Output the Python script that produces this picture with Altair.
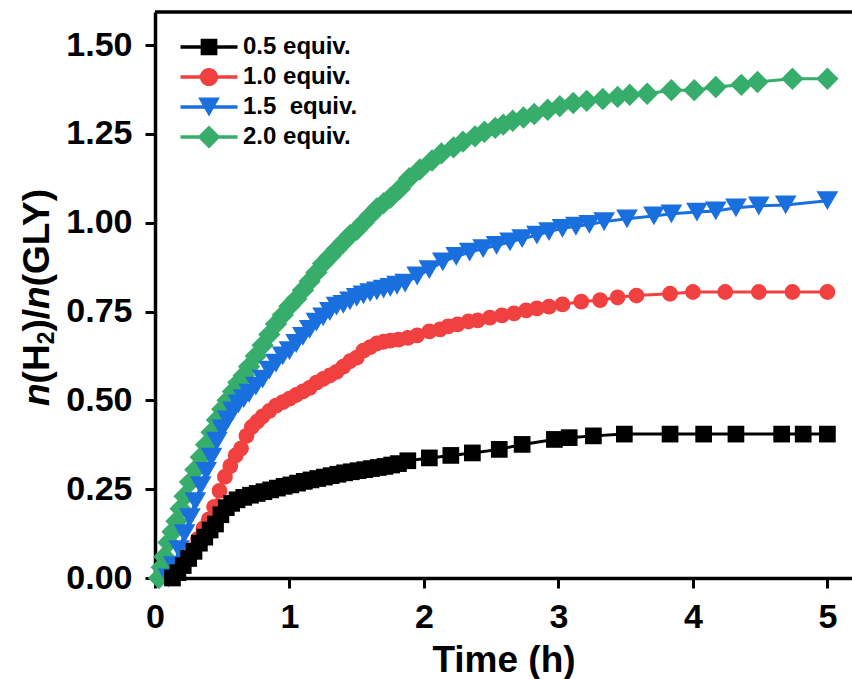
import altair as alt
import pandas as pd

# ---------------- data ----------------
series_names = ["0.5 equiv.", "1.0 equiv.", "1.5\u00a0 equiv.", "2.0 equiv."]
series_colors = ["#000000", "#F14040", "#1A6FDF", "#37AD6B"]
point_shapes = ["square", "circle", "triangle-down", "diamond"]
point_sizes = [279, 250, 471, 500]

t_05 = [0.13, 0.17, 0.21, 0.25, 0.29, 0.33, 0.37, 0.41, 0.45, 0.49, 0.53, 0.57, 0.61,
        0.66, 0.71, 0.76, 0.81, 0.86, 0.91, 0.96, 1.01, 1.06, 1.11, 1.16, 1.21, 1.26,
        1.31, 1.36, 1.41, 1.46, 1.51, 1.56, 1.61, 1.66, 1.71, 1.76, 1.81,
        1.88, 2.04, 2.20, 2.36, 2.56, 2.73, 2.97, 3.08, 3.26, 3.49, 3.83, 4.08, 4.32,
        4.66, 4.82, 5.00]
v_05 = [0.0, 0.015, 0.035, 0.055, 0.075, 0.098, 0.115, 0.135, 0.152, 0.178, 0.198, 0.21, 0.22,
        0.227, 0.233, 0.238, 0.243, 0.248, 0.253, 0.258, 0.262, 0.267, 0.272, 0.276, 0.28,
        0.284, 0.288, 0.292, 0.296, 0.299, 0.302, 0.305, 0.308, 0.311, 0.314, 0.318, 0.322,
        0.33, 0.338, 0.345, 0.352, 0.362, 0.376, 0.39, 0.395, 0.40, 0.405, 0.405, 0.405,
        0.405, 0.405, 0.405, 0.405]

t_10 = [0.12, 0.16, 0.20, 0.24, 0.28, 0.32, 0.36, 0.40, 0.44, 0.48, 0.52, 0.56, 0.60, 0.64,
        0.68, 0.72, 0.76, 0.80, 0.85, 0.90, 0.95, 1.00, 1.05, 1.10, 1.15, 1.20, 1.25, 1.30,
        1.35, 1.40, 1.45, 1.50, 1.55, 1.60, 1.65, 1.70, 1.75, 1.81, 1.88, 1.95, 2.04, 2.12,
        2.18, 2.25, 2.33, 2.40, 2.49, 2.58, 2.67, 2.76, 2.84, 2.93, 3.03, 3.17, 3.31, 3.44,
        3.58, 3.83, 4.00, 4.24, 4.49, 4.74, 5.00]
v_10 = [0.0, 0.015, 0.03, 0.05, 0.08, 0.11, 0.14, 0.165, 0.20, 0.245, 0.285, 0.315, 0.345,
        0.365, 0.40, 0.425, 0.44, 0.455, 0.47, 0.485, 0.495, 0.505, 0.515, 0.525, 0.535,
        0.55, 0.56, 0.57, 0.58, 0.595, 0.61, 0.62, 0.64, 0.65, 0.66, 0.665, 0.668, 0.671,
        0.676, 0.683, 0.694, 0.70, 0.708, 0.714, 0.722, 0.725, 0.733, 0.739, 0.745, 0.753,
        0.759, 0.764, 0.77, 0.778, 0.782, 0.79, 0.795, 0.80, 0.805, 0.805, 0.805, 0.805, 0.805]

t_15 = [0.10, 0.14, 0.18, 0.22, 0.26, 0.30, 0.34, 0.38, 0.42, 0.46, 0.50, 0.54, 0.58, 0.62,
        0.66, 0.70, 0.75, 0.80, 0.85, 0.90, 0.95, 1.00, 1.05, 1.10, 1.15, 1.20, 1.25, 1.30,
        1.35, 1.40, 1.45, 1.50, 1.55, 1.60, 1.65, 1.70, 1.75, 1.80, 1.86, 1.95, 2.04, 2.14,
        2.24, 2.34, 2.44, 2.54, 2.64, 2.73, 2.84, 2.93, 3.03, 3.13, 3.23, 3.34, 3.51, 3.71,
        3.84, 4.03, 4.17, 4.32, 4.49, 4.69, 5.00]
v_15 = [0.0, 0.035, 0.08, 0.125, 0.17, 0.215, 0.26, 0.30, 0.34, 0.385, 0.42, 0.445, 0.47,
        0.49, 0.505, 0.52, 0.54, 0.56, 0.585, 0.605, 0.625, 0.64, 0.66, 0.68, 0.70, 0.72,
        0.735, 0.75, 0.765, 0.77, 0.78, 0.79, 0.797, 0.803, 0.808, 0.813, 0.818, 0.824,
        0.83, 0.85, 0.868, 0.89, 0.905, 0.917, 0.927, 0.936, 0.946, 0.955, 0.965, 0.975,
        0.984, 0.99, 0.995, 1.003, 1.011, 1.019, 1.025, 1.03, 1.033, 1.042, 1.047, 1.05, 1.062]

t_20 = [0.03, 0.05, 0.07, 0.10, 0.13, 0.16, 0.19, 0.22, 0.26, 0.30, 0.34, 0.38, 0.42, 0.46,
        0.50, 0.54, 0.58, 0.62, 0.66, 0.70, 0.75, 0.80, 0.85, 0.90, 0.95, 1.00, 1.05, 1.10,
        1.15, 1.20, 1.25, 1.30, 1.35, 1.40, 1.45, 1.50, 1.55, 1.60, 1.65, 1.70, 1.75, 1.82,
        1.89, 1.97, 2.06, 2.13, 2.22, 2.29, 2.38, 2.45, 2.53, 2.59, 2.66, 2.74, 2.82, 2.92,
        3.01, 3.11, 3.21, 3.33, 3.44, 3.53, 3.66, 3.84, 4.01, 4.17, 4.36, 4.48, 4.74, 5.00]
v_20 = [0.0, 0.03, 0.06, 0.10, 0.13, 0.16, 0.195, 0.23, 0.27, 0.305, 0.34, 0.375, 0.41,
        0.445, 0.475, 0.50, 0.525, 0.55, 0.57, 0.595, 0.625, 0.655, 0.685, 0.715, 0.74,
        0.765, 0.785, 0.81, 0.835, 0.86, 0.885, 0.905, 0.925, 0.945, 0.965, 0.98, 1.0, 1.02,
        1.04, 1.055, 1.07, 1.095, 1.125, 1.15, 1.175, 1.195, 1.212, 1.228, 1.243, 1.256,
        1.267, 1.276, 1.287, 1.296, 1.306, 1.318, 1.328, 1.337, 1.343, 1.348, 1.354, 1.36,
        1.363, 1.373, 1.373, 1.382, 1.388, 1.396, 1.405, 1.405]

x_ticks = [0, 1, 2, 3, 4, 5]
y_ticks = [0.0, 0.25, 0.50, 0.75, 1.00, 1.25, 1.50]

series_data = [(t_05, v_05), (t_10, v_10), (t_15, v_15), (t_20, v_20)]
rows = []
for name, (ts, vs) in zip(series_names, series_data, strict=True):
    for t, v in zip(ts, vs, strict=True):
        rows.append({"series": name, "t": t, "v": v})
df = pd.DataFrame(rows)

# ---------------- layout ----------------
W, H = 697, 566
LEFT, TOP = 155, 12
FONT = "Liberation Sans"

x_scale = alt.Scale(domain=[0, 5.183], nice=False, zero=False)
y_scale = alt.Scale(domain=[0, 1.593], nice=False)
color_scale = alt.Scale(domain=series_names, range=series_colors)

x_enc = alt.X("t:Q", scale=x_scale,
              axis=alt.Axis(values=x_ticks, format="d", title="Time (h)"))
y_enc = alt.Y("v:Q", scale=y_scale,
              axis=alt.Axis(values=y_ticks, format=".2f", title=None))

base = alt.Chart(df)

lines = base.mark_line(strokeWidth=3).encode(
    x=x_enc, y=y_enc,
    color=alt.Color("series:N", scale=color_scale, legend=None),
)

# one point layer per series (green drawn first, black last)
point_layers = []
for i in [3, 2, 1, 0]:
    point_layers.append(
        base.transform_filter(alt.datum.series == series_names[i]).mark_point(
            filled=True, opacity=1, strokeWidth=0, shape=point_shapes[i],
            size=point_sizes[i], color=series_colors[i]
        ).encode(x=x_enc, y=y_enc)
    )

# legend symbols: line + marker as custom paths (unit = 12 px, symbolSize 576)
ln = "M-2.375,-0.155H2.375V0.155H-2.375Z"
legend_paths = [
    ln + "M-0.696,-0.696H0.696V0.696H-0.696Z",
    ln + "M-0.76,0A0.76,0.76,0,1,1,0.76,0A0.76,0.76,0,1,1,-0.76,0Z",
    ln + "M-0.904,-0.783L0.904,-0.783L0,0.783Z",
    ln + "M-0.958,0L0,-0.958L0.958,0L0,0.958Z",
]
leg = alt.Legend(title=None, orient="none", legendX=42, legendY=23,
                 labelFont=FONT, labelFontSize=24, labelFontWeight="bold",
                 labelColor="black", labelOffset=22, rowPadding=6,
                 symbolSize=576, symbolStrokeWidth=0, padding=0, labelLimit=0)

legend_layer = base.transform_filter("false").mark_point(
    filled=True, opacity=1, size=576, strokeWidth=0).encode(
    x=x_enc, y=y_enc,
    color=alt.Color("series:N", scale=color_scale, legend=leg),
    shape=alt.Shape("series:N", scale=alt.Scale(domain=series_names, range=legend_paths), legend=leg),
)

# top frame line
top_rule = alt.Chart(pd.DataFrame({"k": [0]})).mark_rule(
    strokeWidth=3.5, color="black").encode(
    x=alt.value(0), x2=alt.value(W), y=alt.value(0))

# y-axis title with italic n and subscript 2 (rotated pieces, built bottom-up)
TS = 37
SUB = 23
adv = {"n": 0.611, "(": 0.333, "H": 0.722, "2": 0.556, ")": 0.333, "/": 0.278,
       "G": 0.778, "L": 0.611, "Y": 0.667}
pieces = [("n", TS, "italic", 0), ("(H", TS, "normal", 0), ("2", SUB, "normal", 5),
          (")/", TS, "normal", 0), ("n", TS, "italic", 0), ("(GLY)", TS, "normal", 0)]
title_layers = []
ypos = 406 - TOP
xbase = 49 - LEFT
for txt, fs, style, shift in pieces:
    title_layers.append(
        alt.Chart(pd.DataFrame({"k": [0]})).mark_text(
            text=txt, angle=270, align="left", baseline="alphabetic",
            font=FONT, fontWeight="bold", fontStyle=style, fontSize=fs, color="black"
        ).encode(x=alt.value(xbase + shift), y=alt.value(ypos))
    )
    ypos -= sum(adv[c] for c in txt) * fs

chart = alt.layer(lines, *point_layers, legend_layer, top_rule, *title_layers).resolve_scale(
    color="independent", shape="independent"
).properties(
    width=W, height=H,
    padding={"left": LEFT, "top": TOP, "right": 0, "bottom": 679 - TOP - H},
    autosize=alt.AutoSizeParams(type="none"),
    background="white",
).configure_view(stroke=None).configure_axis(
    labelFont=FONT, labelFontSize=34, labelFontWeight="bold", labelColor="black",
    titleFont=FONT, titleFontSize=37, titleFontWeight="bold", titleColor="black",
    domainColor="black", domainWidth=3.5, tickColor="black", tickWidth=3, tickSize=10,
    grid=False, labelFlush=False,
).configure_axisX(labelPadding=12, titlePadding=8).configure_axisY(labelPadding=13)

chart.save("out.html", embed_options={"renderer": "svg", "actions": False})
